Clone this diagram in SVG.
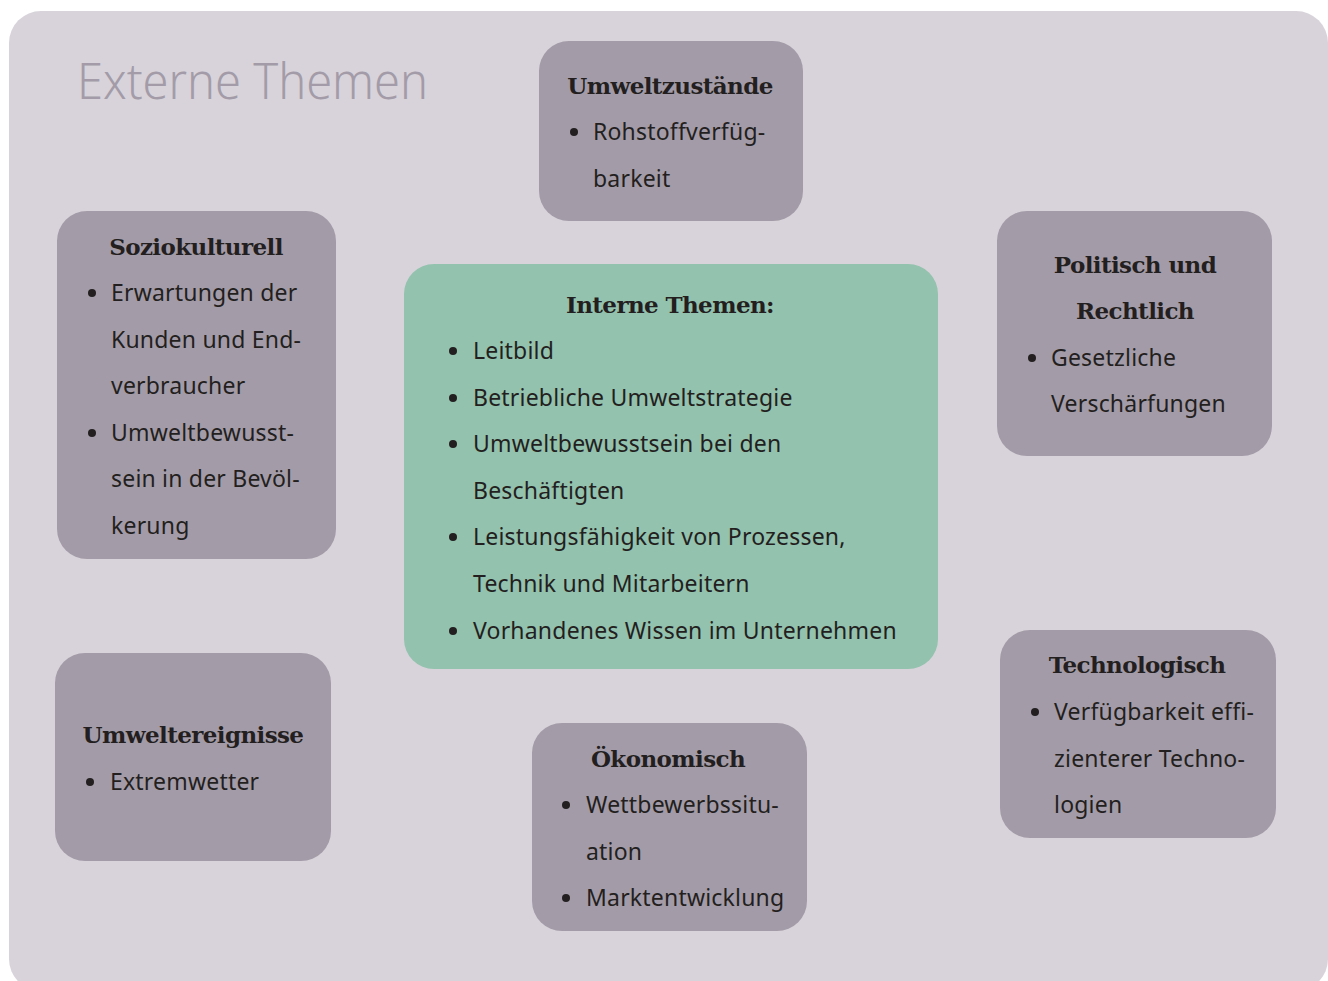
<svg xmlns="http://www.w3.org/2000/svg" width="1328" height="981" viewBox="0 0 1328 981">
<style>
.bg{fill:#d8d3da}
.box{fill:#a39ca8}
.int{fill:#93c2ae}
.h{font-family:"DejaVu Serif","Liberation Serif",serif;font-weight:bold;font-size:23px;fill:#231f20;text-anchor:middle;letter-spacing:-0.6px}
.t{font-family:"Noto Sans","Open Sans",sans-serif;font-size:23px;fill:#231f20;letter-spacing:0.2px}
.dot{fill:#231f20}
.title{font-family:"Noto Sans","Open Sans",sans-serif;font-weight:300;font-size:49px;fill:#a39ca8}
</style>
<rect class="bg" x="9" y="11" width="1319" height="980" rx="32"/>
<text class="title" x="77" y="99" textLength="351" lengthAdjust="spacingAndGlyphs">Externe Themen</text>
<g id="connectors"></g>
<g id="umweltzustaende">
<rect class="box" x="539" y="41" width="264" height="180" rx="30"/>
<text class="h" x="670" y="94">Umweltzustände</text>
<circle class="dot" cx="574" cy="132" r="4"/>
<text class="t" x="593" y="140">Rohstoffverfüg-</text>
<text class="t" x="593" y="187">barkeit</text>
</g>
<g id="soziokulturell">
<rect class="box" x="57" y="211" width="279" height="348" rx="30"/>
<text class="h" x="196" y="255">Soziokulturell</text>
<circle class="dot" cx="92" cy="293" r="4"/>
<text class="t" x="111" y="301">Erwartungen der</text>
<text class="t" x="111" y="348">Kunden und End-</text>
<text class="t" x="111" y="394">verbraucher</text>
<circle class="dot" cx="92" cy="433" r="4"/>
<text class="t" x="111" y="441">Umweltbewusst-</text>
<text class="t" x="111" y="487">sein in der Bevöl-</text>
<text class="t" x="111" y="534">kerung</text>
</g>
<g id="interne">
<rect class="int" x="404" y="264" width="534" height="405" rx="30"/>
<text class="h" x="670" y="313">Interne Themen:</text>
<circle class="dot" cx="453" cy="351" r="4"/>
<text class="t" x="473" y="359">Leitbild</text>
<circle class="dot" cx="453" cy="398" r="4"/>
<text class="t" x="473" y="406">Betriebliche Umweltstrategie</text>
<circle class="dot" cx="453" cy="444" r="4"/>
<text class="t" x="473" y="452">Umweltbewusstsein bei den</text>
<text class="t" x="473" y="499">Beschäftigten</text>
<circle class="dot" cx="453" cy="537" r="4"/>
<text class="t" x="473" y="545">Leistungsfähigkeit von Prozessen,</text>
<text class="t" x="473" y="592">Technik und Mitarbeitern</text>
<circle class="dot" cx="453" cy="631" r="4"/>
<text class="t" x="473" y="639">Vorhandenes Wissen im Unternehmen</text>
</g>
<g id="politisch">
<rect class="box" x="997" y="211" width="275" height="245" rx="30"/>
<text class="h" x="1135" y="273">Politisch und</text>
<text class="h" x="1135" y="319">Rechtlich</text>
<circle class="dot" cx="1032" cy="358" r="4"/>
<text class="t" x="1051" y="366">Gesetzliche</text>
<text class="t" x="1051" y="412">Verschärfungen</text>
</g>
<g id="umweltereignisse">
<rect class="box" x="55" y="653" width="276" height="208" rx="30"/>
<text class="h" x="193" y="743">Umweltereignisse</text>
<circle class="dot" cx="90" cy="782" r="4"/>
<text class="t" x="110" y="790">Extremwetter</text>
</g>
<g id="oekonomisch">
<rect class="box" x="532" y="723" width="275" height="208" rx="30"/>
<text class="h" x="668" y="767">Ökonomisch</text>
<circle class="dot" cx="566" cy="805" r="4"/>
<text class="t" x="586" y="813">Wettbewerbssitu-</text>
<text class="t" x="586" y="860">ation</text>
<circle class="dot" cx="566" cy="898" r="4"/>
<text class="t" x="586" y="906">Marktentwicklung</text>
</g>
<g id="technologisch">
<rect class="box" x="1000" y="630" width="276" height="208" rx="30"/>
<text class="h" x="1137" y="673">Technologisch</text>
<circle class="dot" cx="1035" cy="712" r="4"/>
<text class="t" x="1054" y="720">Verfügbarkeit effi-</text>
<text class="t" x="1054" y="767">zienterer Techno-</text>
<text class="t" x="1054" y="813">logien</text>
</g>
</svg>
